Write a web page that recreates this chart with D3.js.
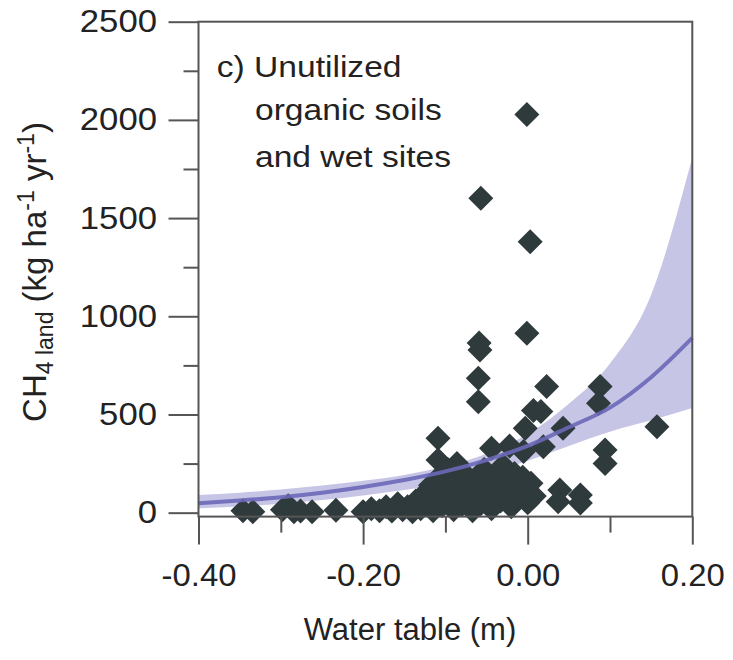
<!DOCTYPE html>
<html>
<head>
<meta charset="utf-8">
<script src="https://cdn.jsdelivr.net/npm/d3@7"></script>
<style>
  body { margin: 0; background: #fff; }
  text { font-family: Arial, "Liberation Sans", Helvetica, sans-serif; fill: #222; }
</style>
</head>
<body>
<svg id="chart" width="733" height="660"></svg>
<script>
// Site observations: water table depth (m) and CH4 emission (kg ha-1 yr-1)
const waterTable = [
  -0.001, -0.057, 0.003, -0.001, -0.059, -0.058, -0.060, -0.060, 0.023, 0.007,
  0.016, -0.003, -0.005, 0.019, -0.022, 0.043, 0.088, 0.086, 0.157, 0.094,
  0.094, -0.044, -0.109, -0.109, -0.086, 0.039, 0.064, 0.037, 0.064,
  -0.346, -0.334, -0.298, -0.291, -0.284, -0.276, -0.262, -0.233, -0.200, -0.190,
  -0.180, -0.172, -0.165, -0.158, -0.152, -0.146, -0.140, -0.136, -0.130, -0.126,
  -0.122, -0.118, -0.115, -0.112, -0.108, -0.104, -0.100, -0.097, -0.094, -0.090,
  -0.087, -0.084, -0.080, -0.077, -0.074, -0.070, -0.067, -0.063, -0.060, -0.057,
  -0.053, -0.050, -0.047, -0.044, -0.040, -0.037, -0.033, -0.030, -0.027, -0.024,
  -0.020, -0.016, -0.013, -0.010, -0.006, -0.003, 0.000, 0.004, 0.008
];
const ch4Flux = [
  2028, 1601, 1380, 913, 864, 828, 684, 565, 642, 520,
  515, 430, 311, 336, 340, 430, 642, 557, 438, 319,
  251, 328, 379, 268, 251, 116, 90, 56, 49,
  10, 5, 15, 35, 5, 8, 5, 12, 5, 20,
  10, 30, 8, 45, 15, 30, 5, 60, 20, 95,
  40, 140, 10, 70, 180, 35, 120, 220, 65, 15,
  160, 100, 40, 200, 130, 70, 10, 170, 110, 45,
  220, 150, 85, 20, 190, 120, 60, 240, 160, 100,
  30, 200, 140, 75, 180, 110, 50, 150, 85
];

// Fitted curve with its confidence band
const fitX     = [-0.40, -0.35, -0.30, -0.25, -0.20, -0.15, -0.10, -0.05, 0.00, 0.05, 0.10, 0.15, 0.20];
const fitMean  = [   48,    62,    79,   102,   131,   166,   210,   268,  340,  435,  535,  690,  890];
const fitLower = [   22,    32,    45,    64,    88,   115,   150,   200,  265,  340,  412,  470,  533];
const fitUpper = [   90,   102,   118,   138,   162,   192,   236,   300,  400,  555,  760, 1110, 1810];

// Axis ticks
const xMajorTicks = [-0.40, -0.20, 0.00, 0.20];
const xMinorTicks = [-0.30, -0.10, 0.10];
const yMajorTicks = [0, 500, 1000, 1500, 2000, 2500];
const yMinorTicks = [250, 750, 1250, 1750, 2250];

const panelLabel = ["c) Unutilized", "organic soils", "and wet sites"];

const svg = d3.select("#chart");
const plotLeft = 198.5, plotRight = 692.3, plotTop = 21.7, plotBottom = 516.6;
const stretch = 1.12; // horizontal widening of the label lettering

const x = d3.scaleLinear().domain([-0.40, 0.20]).range([plotLeft, plotRight]);
const y = d3.scaleLinear().domain([-20, 2500]).range([plotBottom, plotTop]);

const fit = fitX.map((v, i) => ({ x: v, mean: fitMean[i], lo: fitLower[i], hi: fitUpper[i] }));

// Confidence band
svg.append("path")
  .datum(fit)
  .attr("fill", "#c7c5e5")
  .attr("d", d3.area()
    .x(d => x(d.x))
    .y0(d => y(d.lo))
    .y1(d => y(d.hi))
    .curve(d3.curveMonotoneX));

// Observations as diamonds
const r = 12.5;
const diamond = `M0,${-r}L${r},0L0,${r}L${-r},0Z`;
svg.append("g")
  .selectAll("path")
  .data(waterTable.map((v, i) => ({ x: v, y: ch4Flux[i] })))
  .join("path")
  .attr("d", diamond)
  .attr("transform", d => `translate(${x(d.x)},${y(d.y)})`)
  .attr("fill", "#2f3a3d");

// Fitted line
svg.append("path")
  .datum(fit)
  .attr("fill", "none")
  .attr("stroke", "#6c68b8")
  .attr("stroke-width", 4)
  .attr("stroke-opacity", 0.9)
  .attr("d", d3.line()
    .x(d => x(d.x))
    .y(d => y(d.mean))
    .curve(d3.curveMonotoneX));

// Frame
svg.append("rect")
  .attr("x", plotLeft).attr("y", plotTop)
  .attr("width", plotRight - plotLeft).attr("height", plotBottom - plotTop)
  .attr("fill", "none").attr("stroke", "#555").attr("stroke-width", 2);

function styleAxis(g) {
  g.select(".domain").remove();
  g.selectAll(".tick line").attr("stroke", "#555").attr("stroke-width", 2);
  g.selectAll(".tick text").attr("fill", "#222").attr("font-size", 31)
    .attr("font-family", "Arial, 'Liberation Sans', sans-serif");
}

const hyphenFixed = d => d.toFixed(2); // plain hyphen-minus, as in "-0.40"

// Y axis
svg.append("g")
  .attr("transform", `translate(${plotLeft},0)`)
  .call(d3.axisLeft(y).tickValues(yMajorTicks).tickSize(30).tickPadding(11.5).tickFormat(d3.format("d")))
  .call(styleAxis)
  .call(g => g.selectAll(".tick text")
    .attr("x", -41.5 / stretch)
    .attr("transform", `scale(${stretch},1)`));
svg.append("g")
  .attr("transform", `translate(${plotLeft},0)`)
  .call(d3.axisLeft(y).tickValues(yMinorTicks).tickSize(15).tickFormat(""))
  .call(styleAxis);

// X axis
svg.append("g")
  .attr("transform", `translate(0,${plotBottom})`)
  .call(d3.axisBottom(x).tickValues(xMajorTicks).tickSize(28).tickPadding(19).tickFormat(hyphenFixed))
  .call(styleAxis)
  .call(g => g.selectAll(".tick text").attr("transform", "scale(1.06,1)"));
svg.append("g")
  .attr("transform", `translate(0,${plotBottom})`)
  .call(d3.axisBottom(x).tickValues(xMinorTicks).tickSize(16).tickFormat(""))
  .call(styleAxis);

// Axis titles
svg.append("text")
  .attr("x", 410).attr("y", 640)
  .attr("text-anchor", "middle")
  .attr("font-size", 31)
  .text("Water table (m)");

const yTitle = svg.append("text")
  .attr("transform", "translate(46,272) rotate(-90)")
  .attr("text-anchor", "middle")
  .attr("font-size", 33);
yTitle.append("tspan").text("CH");
yTitle.append("tspan").attr("font-size", 23).attr("dy", 7).text("4 land");
yTitle.append("tspan").attr("dy", -7).text(" (kg ha");
yTitle.append("tspan").attr("font-size", 23).attr("dy", -12).text("-1");
yTitle.append("tspan").attr("dy", 12).text(" yr");
yTitle.append("tspan").attr("font-size", 23).attr("dy", -12).text("-1");
yTitle.append("tspan").attr("dy", 12).text(")");

// Panel label
const lab = svg.append("g")
  .attr("font-size", 30)
  .attr("transform", `translate(216.7,0) scale(${stretch},1)`);
lab.append("text").attr("x", 0).attr("y", 76.7).text(panelLabel[0]);
lab.append("text").attr("x", (255 - 216.7) / stretch).attr("y", 120).text(panelLabel[1]);
lab.append("text").attr("x", (255 - 216.7) / stretch).attr("y", 166.7).text(panelLabel[2]);
</script>
</body>
</html>
